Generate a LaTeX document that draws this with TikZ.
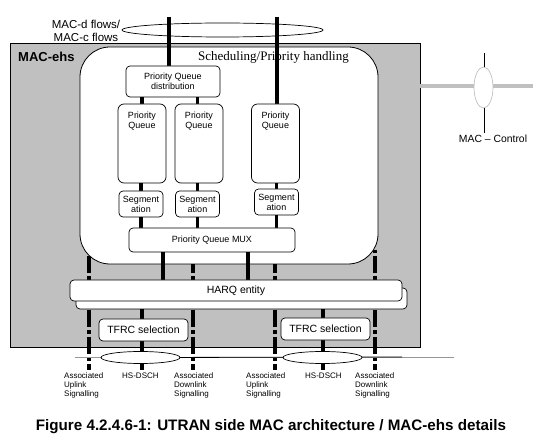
\documentclass[tikz,border=0pt]{standalone}
\usepackage{fontspec}
\setmainfont{Liberation Sans}
\newfontfamily\serifface{Liberation Serif}
\usetikzlibrary{shapes.geometric, positioning, calc}
\definecolor{boxgrey}{RGB}{192, 192, 192}
\definecolor{busgrey}{RGB}{150, 150, 150}
\pgfdeclarelayer{back}
\pgfdeclarelayer{wires}
\pgfsetlayers{back,wires,main}

\begin{document}
\begin{tikzpicture}[x=1pt, y=-1pt,
  box/.style={draw, fill=white, rounded corners=4pt, line width=0.7pt, inner sep=1pt, align=center},
  queuebox/.style={box, rounded corners=6pt, minimum width=48pt, minimum height=79pt},
  qtext/.style={anchor=north, yshift=-8pt, align=center, inner sep=0pt, font=\fontsize{9}{10}\selectfont},
  segbox/.style={box, minimum width=44pt, minimum height=26pt, font=\fontsize{9}{10}\selectfont},
  tfrcbox/.style={box, minimum width=89pt, minimum height=22pt, font=\fontsize{10.5}{12}\selectfont},
  flow/.style={line width=3.5pt},
  sig/.style={line width=4pt, dash pattern=on 17pt off 3pt on 4pt off 3pt, dash phase=21pt},
  chan/.style={draw, ellipse, fill=white, line width=0.7pt, inner sep=0pt},
  siglabel/.style={anchor=north west, align=left, inner sep=0pt, font=\fontsize{8}{9}\selectfont}]
  \useasboundingbox (0,0) rectangle (539,441);

  \begin{pgfonlayer}{back}
    % MAC-ehs frame
    \node[draw, fill=boxgrey, line width=0.8pt, minimum width=410pt, minimum height=304pt, inner sep=0pt] (macehs) at (215,195) {};
    % Signalling lines
    \foreach \x/\n in {89/ulA, 193/dlA, 275/ulB, 375/dlB} {
      \coordinate (\n top) at (\x,250);
      \coordinate (\n bot) at (\x,370);
      \draw[sig] (\n top) -- (\n bot);
    }
    % Scheduling/Priority handling block
    \node[draw, fill=white, rounded corners=30pt, line width=0.8pt, minimum width=298pt, minimum height=217pt, inner sep=0pt] (sched) at (229,155.5) {};
  \end{pgfonlayer}

  % Titles
  \node[font=\bfseries\fontsize{13}{15}\selectfont, anchor=west, inner sep=0pt] (ehslabel) at (18,57) {MAC-ehs};
  \node[font=\serifface\fontsize{13}{15}\selectfont, anchor=west, inner sep=0pt] (schedlabel) at (198,57) {Scheduling/Priority handling};

  % MAC-d / MAC-c flows
  \node[align=center, font=\fontsize{11.5}{12.5}\selectfont, inner sep=0pt] (flowlabel) at (86,31) {MAC-d flows/\\MAC-c flows};
  \node[chan, fill=none, minimum width=201pt, minimum height=14pt] (flows) at (222.5,30) {};

  % Priority queues
  \node[box, minimum width=94pt, minimum height=31pt, font=\fontsize{9}{10}\selectfont] (pqdist) at (173,81.5) {Priority Queue\\distribution};
  \node[queuebox, label={[qtext]north:Priority\\Queue}] (pqA) at (142,143.5) {};
  \node[queuebox, label={[qtext]north:Priority\\Queue}] (pqB) at (199,143.5) {};
  \node[queuebox, label={[qtext]north:Priority\\Queue}] (pqC) at (275.5,143.5) {};

  % Segmentation
  \node[segbox] (segA) at (141,204) {Segment\\ation};
  \node[segbox] (segB) at (197.5,204) {Segment\\ation};
  \node[segbox] (segC) at (276.5,202) {Segment\\ation};

  % MUX
  \node[box, minimum width=166pt, minimum height=24pt, font=\fontsize{9}{10}\selectfont] (mux) at (212,240) {Priority Queue MUX};

  % HARQ
  \node[box, minimum width=331pt, minimum height=21pt] (harqbk) at (241.5,298.5) {};
  \node[box, minimum width=332pt, minimum height=21pt, font=\fontsize{10.5}{12}\selectfont] (harq) at (236,290.5) {HARQ entity};

  % TFRC selection
  \node[tfrcbox] (tfrcA) at (143.5,330) {TFRC selection};
  \node[tfrcbox] (tfrcB) at (325.5,329) {TFRC selection};

  % HS-DSCH
  \node[chan, minimum width=79pt, minimum height=12pt] (hsA) at (140.5,357.5) {};
  \node[chan, minimum width=79pt, minimum height=12pt] (hsB) at (322.5,357.5) {};

  % Bottom labels
  \node[siglabel] (ulAtext) at (64,373) {Associated\\Uplink\\Signalling};
  \node[siglabel] (hsAtext) at (122,373) {HS-DSCH};
  \node[siglabel] (dlAtext) at (174,373) {Associated\\Downlink\\Signalling};
  \node[siglabel] (ulBtext) at (246,373) {Associated\\Uplink\\Signalling};
  \node[siglabel] (hsBtext) at (305,373) {HS-DSCH};
  \node[siglabel] (dlBtext) at (355,373) {Associated\\Downlink\\Signalling};

  % MAC - Control
  \node[chan, draw=boxgrey, minimum width=19pt, minimum height=41pt] (ctrl) at (483.5,87.5) {};
  \node[font=\fontsize{10.4}{12}\selectfont, inner sep=0pt] (ctrllabel) at (493,139) {MAC – Control};

  % Caption
  \node[font=\bfseries\fontsize{15.2}{18}\selectfont, inner sep=0pt] (caption) at (271,427) {Figure 4.2.4.6-1: UTRAN side MAC architecture / MAC-ehs details};

  \begin{pgfonlayer}{wires}
    % Flows into the queues
    \coordinate (flowA) at (169,17);
    \coordinate (flowB) at (277,17);
    \draw[flow] (flowA) -- (flowA |- pqdist.north);
    \draw[flow] (flowB) -- (flowB |- pqC.north);
    \draw[flow] (pqdist.south -| pqA) -- (pqA.north);
    \draw[flow] (pqdist.south -| segB) -- (segB |- pqB.north);
    \foreach \q/\sg in {pqA/segA, pqB/segB, pqC/segC} {
      \draw[flow] (\sg |- \q.south) -- (\sg.north);
      \draw[flow] (\sg.south) -- (\sg |- mux.north);
    }
    % MUX to HARQ
    \draw[flow] ([xshift=-49pt]mux.south) -- ([xshift=-49pt]mux.south |- harq.north);
    \draw[flow] ([xshift=36pt]mux.south) -- ([xshift=36pt]mux.south |- harq.north);
    % HS-DSCH channels
    \coordinate (hsAbot) at (142,370);
    \coordinate (hsBbot) at (323,370);
    \draw[flow] (hsAbot |- harqbk.south) -- (hsAbot);
    \draw[flow] (hsBbot |- harqbk.south) -- (hsBbot);
    % Bus line
    \coordinate (busL) at (75,357);
    \coordinate (busK) at (402,357);
    \coordinate (busR) at (454,357);
    \draw[busgrey, line width=0.8pt] (busL) -- (busR);
    \draw[line width=0.8pt] (hsA.center) -- (busK);
    % Control path
    \coordinate (ctrltop) at (484,53);
    \coordinate (ctrlbot) at (484,133);
    \coordinate (ctrlend) at (533,86);
    \draw[boxgrey, line width=4pt] (macehs.east |- ctrlend) -- (ctrlend);
    \draw[line width=0.8pt] (ctrltop) -- (ctrlbot);
  \end{pgfonlayer}
\end{tikzpicture}
\end{document}
